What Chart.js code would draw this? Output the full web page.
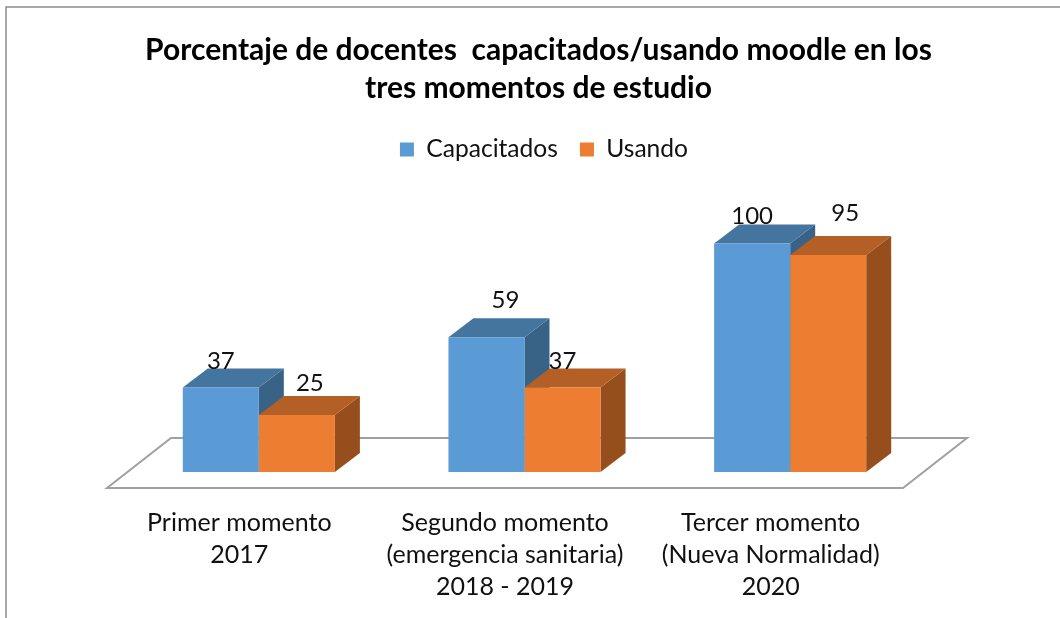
<!DOCTYPE html>
<html>
<head>
<meta charset="utf-8">
<script src="https://cdn.jsdelivr.net/npm/chart.js@4"></script>
<style>
  body { margin: 0; background: #fff; }
  canvas { display: block; }
</style>
</head>
<body>
<canvas id="myCanvas" width="1060" height="618"></canvas>
<script>
const categories = [
  ["Primer momento", "2017"],
  ["Segundo momento", "(emergencia sanitaria)", "2018 - 2019"],
  ["Tercer momento", "(Nueva Normalidad)", "2020"]
];
const capacitados = [37, 59, 100];
const usando = [25, 37, 95];
const titleLines = ["Porcentaje de docentes  capacitados/usando moodle en los", "tres momentos de estudio"];

// the labels in the reference were moved by hand, so each one has its own nudge
const labelNudge = [
  [[0, -26], [19, -37], [0, -27]],
  [[13, -32], [0, -26], [17, -42]]
];

const sideColors = ["#386386", "#964F1C"];
const topColors = ["#44759F", "#B35F25"];
const DEPTH_X = 25, DEPTH_Y = 19;

var box3d = {
  id: "box3d",
  afterLayout(chart) {
    // title sits a little left of the legend in the reference
    chart.titleBlock.left -= 5.5;
    chart.titleBlock.right -= 5.5;
  },
  beforeDraw(chart) {
    const ctx = chart.ctx;
    ctx.save();
    ctx.strokeStyle = "#8C8C8C";
    ctx.lineWidth = 1.5;
    ctx.beginPath();
    ctx.moveTo(6, chart.height);
    ctx.lineTo(6, 7);
    ctx.lineTo(chart.width, 7);
    ctx.stroke();
    ctx.restore();
  },
  beforeDatasetsDraw(chart) {
    const ctx = chart.ctx, area = chart.chartArea;
    const base = chart.scales.y.getPixelForValue(0);
    ctx.save();
    // floor
    ctx.strokeStyle = "#A0A0A0";
    ctx.lineWidth = 2;
    ctx.beginPath();
    ctx.moveTo(area.left - 19, base + 16);
    ctx.lineTo(area.right - 20, base + 16);
    ctx.lineTo(area.right + 44, base - 34);
    ctx.lineTo(area.left + 45, base - 34);
    ctx.closePath();
    ctx.stroke();
    // sides and tops, blue first so the orange ones cover it
    chart.data.datasets.forEach((ds, i) => {
      chart.getDatasetMeta(i).data.forEach(bar => {
        const p = bar.getProps(["x", "y", "base", "width"], true);
        const l = p.x - p.width / 2, r = p.x + p.width / 2;
        ctx.fillStyle = sideColors[i];
        ctx.beginPath();
        ctx.moveTo(r, p.y);
        ctx.lineTo(r + DEPTH_X, p.y - DEPTH_Y);
        ctx.lineTo(r + DEPTH_X, p.base - DEPTH_Y);
        ctx.lineTo(r, p.base);
        ctx.closePath();
        ctx.fill();
        ctx.fillStyle = topColors[i];
        ctx.beginPath();
        ctx.moveTo(l, p.y);
        ctx.lineTo(l + DEPTH_X, p.y - DEPTH_Y);
        ctx.lineTo(r + DEPTH_X, p.y - DEPTH_Y);
        ctx.lineTo(r, p.y);
        ctx.closePath();
        ctx.fill();
      });
    });
    ctx.restore();
  },
  afterDatasetsDraw(chart) {
    const ctx = chart.ctx;
    ctx.save();
    ctx.font = "24px Lato";
    ctx.fillStyle = "#111";
    ctx.textAlign = "center";
    ctx.textBaseline = "middle";
    chart.data.datasets.forEach((ds, i) => {
      chart.getDatasetMeta(i).data.forEach((bar, j) => {
        const n = labelNudge[i][j];
        ctx.fillText(ds.data[j], bar.x + n[0], bar.y + n[1]);
      });
    });
    ctx.restore();
  }
};

var c = document.getElementById("myCanvas");
var ctx = c.getContext("2d");

const barChart = new Chart(ctx, {
  type: "bar",
  data: {
    labels: categories,
    datasets: [
      { label: "Capacitados", data: capacitados, backgroundColor: "#5B9BD5" },
      { label: "Usando", data: usando, backgroundColor: "#ED7D31" }
    ]
  },
  plugins: [box3d],
  options: {
    responsive: false,
    animation: false,
    barPercentage: 1,
    categoryPercentage: 0.5725,
    layout: { padding: { left: 28, right: 0, top: 0, bottom: 0 } },
    scales: {
      x: {
        grid: { display: false },
        border: { display: false },
        ticks: {
          color: "#111",
          font: { family: "Lato", size: 25, lineHeight: 1.28 },
          maxRotation: 0,
          autoSkip: false,
          labelOffset: -19.5,
          padding: 27
        },
        afterFit(s) { s.height = 146; }
      },
      y: {
        min: 0,
        max: 131.4,
        grid: { display: false },
        border: { display: false },
        ticks: { display: false },
        afterFit(s) { s.width = 98; }
      },
      yRight: {
        position: "right",
        grid: { display: false },
        border: { display: false },
        ticks: { display: false },
        afterFit(s) { s.width = 137; }
      }
    },
    plugins: {
      title: {
        display: true,
        text: titleLines,
        color: "#000",
        font: { family: "Lato", size: 30, weight: "bold", lineHeight: 1.27 },
        padding: { top: 31.5, bottom: 7.5 }
      },
      legend: {
        display: true,
        position: "top",
        labels: {
          color: "#111",
          font: { family: "Lato", size: 24.6 },
          boxWidth: 14,
          boxHeight: 14,
          padding: 22
        }
      },
      tooltip: { enabled: false }
    }
  }
});
</script>
</body>
</html>
